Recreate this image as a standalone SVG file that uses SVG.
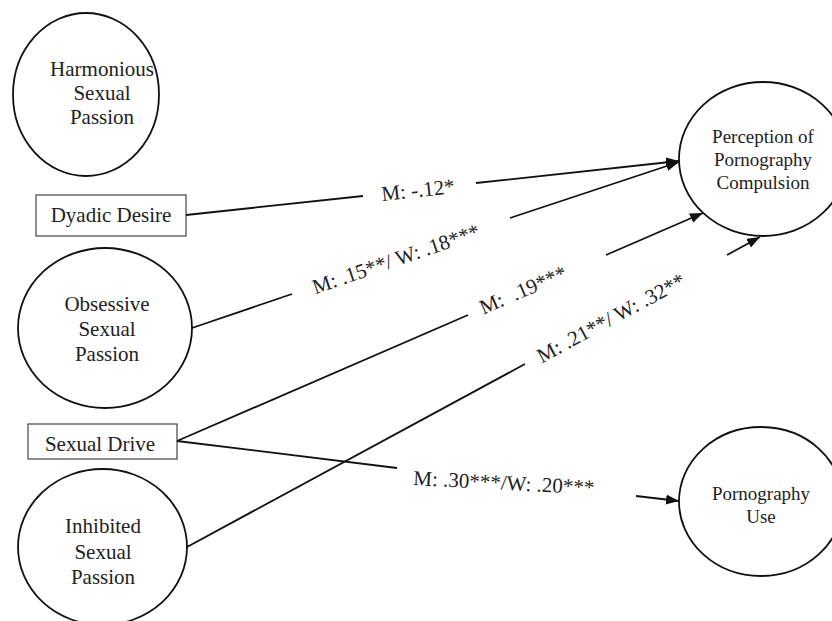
<svg xmlns="http://www.w3.org/2000/svg" width="832" height="621" viewBox="0 0 832 621">
<style>
.node ellipse{fill:#fff;stroke:#111;stroke-width:1.8}
.node rect{fill:#fff;stroke:#444;stroke-width:1.2}
text{font-family:"Liberation Serif","Times New Roman",serif;fill:#222}
.n{font-size:21px;text-anchor:middle}
.s{font-size:19px;text-anchor:middle}
.lbl{font-size:21px;text-anchor:middle}
.conn line{stroke:#111;stroke-width:1.8;fill:none}
</style>
<defs>
<marker id="ah" markerUnits="userSpaceOnUse" markerWidth="14" markerHeight="11" refX="13" refY="5" orient="auto">
<path d="M0,0 L13,5 L0,10 z" fill="#111"/>
</marker>
</defs>
<rect width="832" height="621" fill="#fff"/>
<g id="harmonious" class="node">
<ellipse cx="86" cy="94.5" rx="73" ry="81.5"/>
<text class="n" x="102" y="76">Harmonious</text>
<text class="n" x="102" y="100">Sexual</text>
<text class="n" x="102" y="124">Passion</text>
</g>
<g id="dyadic" class="node">
<rect x="36" y="195" width="150" height="41"/>
<text class="n" x="111" y="222">Dyadic Desire</text>
</g>
<g id="obsessive" class="node">
<ellipse cx="105" cy="328" rx="87" ry="80"/>
<text class="n" x="107" y="311">Obsessive</text>
<text class="n" x="107" y="336">Sexual</text>
<text class="n" x="107" y="361">Passion</text>
</g>
<g id="drive" class="node">
<rect x="28" y="424" width="149" height="35"/>
<text class="n" x="100" y="451">Sexual Drive</text>
</g>
<g id="inhibited" class="node">
<ellipse cx="102.5" cy="547" rx="84.5" ry="78"/>
<text class="n" x="103" y="533">Inhibited</text>
<text class="n" x="103" y="558.5">Sexual</text>
<text class="n" x="103" y="584">Passion</text>
</g>
<g id="compulsion" class="node">
<ellipse cx="763" cy="159" rx="84" ry="77"/>
<text class="s" x="763" y="143">Perception of</text>
<text class="s" x="763" y="166">Pornography</text>
<text class="s" x="763" y="189">Compulsion</text>
</g>
<g id="use" class="node">
<ellipse cx="761" cy="501.5" rx="82" ry="74.5"/>
<text class="s" x="761" y="500">Pornography</text>
<text class="s" x="761" y="523">Use</text>
</g>
<g id="connectors" class="conn">
<line x1="186" y1="215" x2="363" y2="196"/>
<line x1="476" y1="183" x2="679" y2="161" marker-end="url(#ah)"/>
<text class="lbl" transform="translate(418,190) rotate(-6.2)" x="0" y="7">M: -.12*</text>

<line x1="192" y1="328" x2="292" y2="294"/>
<line x1="510" y1="218" x2="679" y2="162" marker-end="url(#ah)"/>
<text class="lbl" transform="translate(396,259) rotate(-19)" x="0" y="7">M: .15**/ W: .18***</text>

<line x1="177" y1="441" x2="468" y2="315"/>
<line x1="606" y1="255" x2="703" y2="213" marker-end="url(#ah)"/>
<text class="lbl" transform="translate(523,290) rotate(-23.4)" x="0" y="7" xml:space="preserve">M:  .19***</text>

<line x1="187" y1="547" x2="525" y2="364"/>
<line x1="727" y1="255" x2="760" y2="237" marker-end="url(#ah)"/>
<text class="lbl" transform="translate(611,318) rotate(-28.4)" x="0" y="7">M: .21**/ W: .32**</text>

<line x1="177" y1="441" x2="397" y2="468"/>
<line x1="636" y1="496" x2="679" y2="501" marker-end="url(#ah)"/>
<text class="lbl" transform="rotate(3,413,485)" x="413" y="485" style="text-anchor:start">M: .30***/W: .20***</text>
</g>
</svg>
